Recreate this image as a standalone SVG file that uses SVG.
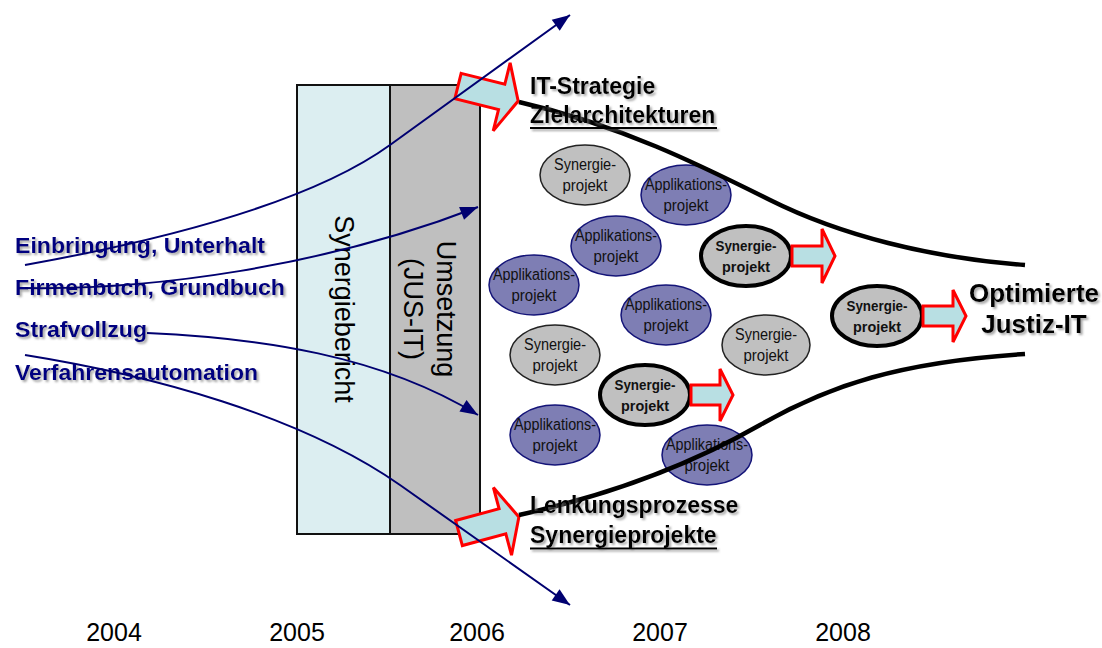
<svg xmlns="http://www.w3.org/2000/svg" width="1102" height="648" viewBox="0 0 1102 648">
<style>
.lbl{font-family:"Liberation Sans",Arial,sans-serif;font-weight:bold;font-size:21.5px;fill:#000080}
.hd{font-family:"Liberation Sans",Arial,sans-serif;font-weight:bold;font-size:23px;fill:#000}
.big{font-family:"Liberation Sans",Arial,sans-serif;font-weight:bold;font-size:26px;fill:#000}
.yr{font-family:"Liberation Sans",Arial,sans-serif;font-size:25px;fill:#000}
.vt{font-family:"Liberation Sans",Arial,sans-serif;font-size:27px;fill:#000}
.et{font-family:"Liberation Sans",Arial,sans-serif;font-size:16px;fill:#111;text-anchor:middle}
.eb{font-family:"Liberation Sans",Arial,sans-serif;font-size:15px;font-weight:bold;fill:#111;text-anchor:middle}
.app{fill:#7E7EB4;stroke:#141478;stroke-width:1.5}
.syn{fill:#C0C0C0;stroke:#222;stroke-width:1.5}
.synb{fill:#C0C0C0;stroke:#000;stroke-width:4}
.rarr{fill:#B8DFE3;stroke:#FF0000;stroke-width:3;stroke-linejoin:miter}
.blue{fill:none;stroke:#000070;stroke-width:2}
.funnel{fill:none;stroke:#000;stroke-width:4.5}
</style>
<defs>
<marker id="ah" viewBox="0 0 10 10" refX="9" refY="5" markerWidth="10" markerHeight="8" markerUnits="userSpaceOnUse" orient="auto" overflow="visible">
<path d="M-13,-3.5 L9,5 L-13,13.5 Z" fill="#000070"/>
</marker>
<filter id="sh" x="-5%" y="-20%" width="115%" height="160%">
<feDropShadow dx="2" dy="2" stdDeviation="1.2" flood-color="#777" flood-opacity="0.65"/>
</filter>
</defs>
<rect width="1102" height="648" fill="#fff"/>

<g id="box">
<rect x="297" y="85" width="93" height="449" fill="#DCEEF1" stroke="#111" stroke-width="2"/>
<rect x="390" y="85" width="90" height="449" fill="#BFBFBF" stroke="#111" stroke-width="2"/>
<text class="vt" transform="translate(335,309) rotate(90)" text-anchor="middle">Synergiebericht</text>
<text class="vt" transform="translate(437,309) rotate(90)" text-anchor="middle">Umsetzung</text>
<text class="vt" transform="translate(404,309) rotate(90)" text-anchor="middle">(JUS-IT)</text>
</g>

<g id="bigarrows">
<polygon class="rarr" transform="translate(458,86) rotate(14)" points="0,-13 45,-13 45,-35 62,0 45,35 45,13 0,13"/>
<polygon class="rarr" transform="translate(459,533) rotate(-15)" points="0,-13 45,-13 45,-35 62,0 45,35 45,13 0,13"/>
</g>

<g id="nodes">
<g id="n1"><ellipse class="syn" cx="585" cy="175" rx="45" ry="30"/><text class="et" x="585" y="170" textLength="62" lengthAdjust="spacingAndGlyphs">Synergie-</text><text class="et" x="585" y="191" textLength="45" lengthAdjust="spacingAndGlyphs">projekt</text></g>
<g id="n2"><ellipse class="app" cx="686" cy="195" rx="45" ry="30"/><text class="et" x="686" y="190" textLength="82" lengthAdjust="spacingAndGlyphs">Applikations-</text><text class="et" x="686" y="211" textLength="45" lengthAdjust="spacingAndGlyphs">projekt</text></g>
<g id="n3"><ellipse class="app" cx="616" cy="246" rx="45" ry="30"/><text class="et" x="616" y="241" textLength="82" lengthAdjust="spacingAndGlyphs">Applikations-</text><text class="et" x="616" y="262" textLength="45" lengthAdjust="spacingAndGlyphs">projekt</text></g>
<g id="n4"><ellipse class="app" cx="534" cy="285" rx="45" ry="30"/><text class="et" x="534" y="280" textLength="82" lengthAdjust="spacingAndGlyphs">Applikations-</text><text class="et" x="534" y="301" textLength="45" lengthAdjust="spacingAndGlyphs">projekt</text></g>
<g id="n5"><ellipse class="app" cx="666" cy="315" rx="45" ry="30"/><text class="et" x="666" y="310" textLength="82" lengthAdjust="spacingAndGlyphs">Applikations-</text><text class="et" x="666" y="331" textLength="45" lengthAdjust="spacingAndGlyphs">projekt</text></g>
<g id="n6"><ellipse class="syn" cx="555" cy="355" rx="45" ry="30"/><text class="et" x="555" y="350" textLength="62" lengthAdjust="spacingAndGlyphs">Synergie-</text><text class="et" x="555" y="371" textLength="45" lengthAdjust="spacingAndGlyphs">projekt</text></g>
<g id="n7"><ellipse class="syn" cx="766" cy="345" rx="44" ry="30"/><text class="et" x="766" y="340" textLength="62" lengthAdjust="spacingAndGlyphs">Synergie-</text><text class="et" x="766" y="361" textLength="45" lengthAdjust="spacingAndGlyphs">projekt</text></g>
<g id="n8"><ellipse class="app" cx="555" cy="435" rx="45" ry="30"/><text class="et" x="555" y="430" textLength="82" lengthAdjust="spacingAndGlyphs">Applikations-</text><text class="et" x="555" y="451" textLength="45" lengthAdjust="spacingAndGlyphs">projekt</text></g>
<g id="n9"><ellipse class="app" cx="707" cy="455" rx="45" ry="30"/><text class="et" x="707" y="450" textLength="82" lengthAdjust="spacingAndGlyphs">Applikations-</text><text class="et" x="707" y="471" textLength="45" lengthAdjust="spacingAndGlyphs">projekt</text></g>
<g id="n10"><ellipse class="synb" cx="746" cy="256" rx="45" ry="30"/><text class="eb" x="746" y="251" textLength="61" lengthAdjust="spacingAndGlyphs">Synergie-</text><text class="eb" x="746" y="272" textLength="48" lengthAdjust="spacingAndGlyphs">projekt</text>
<polygon class="rarr" points="792,246 822,246 822,229 835,256 822,283 822,266 792,266"/></g>
<g id="n11"><ellipse class="synb" cx="645" cy="395" rx="45" ry="30"/><text class="eb" x="645" y="390" textLength="61" lengthAdjust="spacingAndGlyphs">Synergie-</text><text class="eb" x="645" y="411" textLength="48" lengthAdjust="spacingAndGlyphs">projekt</text>
<polygon class="rarr" points="691,385 720,385 720,369 733,395 720,421 720,405 691,405"/></g>
<g id="n12"><ellipse class="synb" cx="877" cy="316" rx="45" ry="30"/><text class="eb" x="877" y="311" textLength="61" lengthAdjust="spacingAndGlyphs">Synergie-</text><text class="eb" x="877" y="332" textLength="48" lengthAdjust="spacingAndGlyphs">projekt</text>
<polygon class="rarr" points="923,306 953,306 953,290 966,316 953,342 953,326 923,326"/></g>
</g>

<g id="funnel">
<path class="funnel" d="M519,102 C620,125 700,165 770,200 S930,258 1025,265"/>
<path class="funnel" d="M519,515 C610,495 690,465 760,425 C830,385 900,362 1025,354"/>
</g>

<g id="headings" filter="url(#sh)">
<text class="hd" x="530" y="94">IT-Strategie</text>
<text class="hd" x="530" y="123">Zielarchitekturen</text>
<line x1="530" y1="128" x2="717" y2="128" stroke="#000" stroke-width="2"/>
<text class="hd" x="530" y="513">Lenkungsprozesse</text>
<text class="hd" x="530" y="543">Synergieprojekte</text>
<line x1="530" y1="548.5" x2="717" y2="548.5" stroke="#000" stroke-width="2"/>
<text class="big" x="1034" y="302" text-anchor="middle">Optimierte</text>
<text class="big" x="1034" y="333" text-anchor="middle">Justiz-IT</text>
</g>

<g id="labels" filter="url(#sh)">
<text class="lbl" x="15" y="253" textLength="250" lengthAdjust="spacingAndGlyphs">Einbringung, Unterhalt</text>
<text class="lbl" x="15" y="295" textLength="270" lengthAdjust="spacingAndGlyphs">Firmenbuch, Grundbuch</text>
<text class="lbl" x="15" y="337" textLength="132" lengthAdjust="spacingAndGlyphs">Strafvollzug</text>
<text class="lbl" x="15" y="380" textLength="243" lengthAdjust="spacingAndGlyphs">Verfahrensautomation</text>
</g>

<g id="connectors">
<path class="blue" d="M25,265 C125,247 300,210 390,145 L570,15" marker-end="url(#ah)"/>
<path class="blue" d="M25,288 C150,290 320,268 478,207" marker-end="url(#ah)"/>
<path class="blue" d="M147,333 C260,338 380,355 478,415" marker-end="url(#ah)"/>
<path class="blue" d="M25,355 C150,375 300,415 400,485 L570,605" marker-end="url(#ah)"/>
</g>

<g id="years">
<text class="yr" x="114" y="641" text-anchor="middle">2004</text>
<text class="yr" x="297" y="641" text-anchor="middle">2005</text>
<text class="yr" x="477" y="641" text-anchor="middle">2006</text>
<text class="yr" x="660" y="641" text-anchor="middle">2007</text>
<text class="yr" x="843" y="641" text-anchor="middle">2008</text>
</g>
</svg>
